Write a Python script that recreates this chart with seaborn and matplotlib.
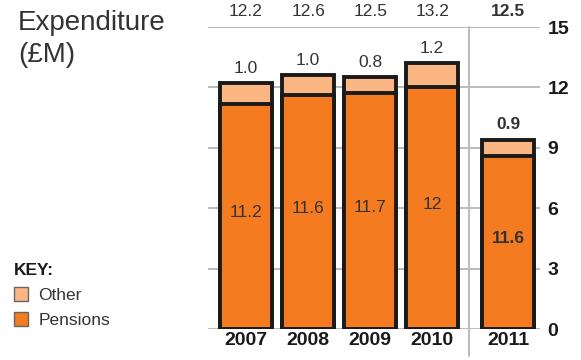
import matplotlib
matplotlib.use("Agg")
import matplotlib.pyplot as plt
import seaborn as sns
import pandas as pd
from matplotlib.patches import Patch

years = ["2007", "2008", "2009", "2010", "2011"]
pensions_label = ["11.2", "11.6", "11.7", "12", "11.6"]
other_label = ["1.0", "1.0", "0.8", "1.2", "0.9"]
total_label = ["12.2", "12.6", "12.5", "13.2", "12.5"]
# drawn bar heights (2011 is drawn shorter than its label)
pensions_height = [11.2, 11.6, 11.7, 12.0, 8.6]
other_height = [1.0, 1.0, 0.8, 1.2, 0.8]
yticks = [0, 3, 6, 9, 12, 15]

PENS = "#F47B20"
OTH = "#FBB684"
TXT = "#333333"

sns.set_theme(style="white")
plt.rcParams["font.family"] = ["Liberation Sans", "DejaVu Sans"]

# positions: four years evenly spaced, then a gap before 2011
pos = [i + (0.226 if i == 4 else 0) for i in range(len(years))]
df = pd.DataFrame({
    "pos": pos,
    "pens": pensions_height,
    "total": [p + o for p, o in zip(pensions_height, other_height)],
})

fig = plt.figure(figsize=(5.81, 3.6), dpi=100)
ax = fig.add_axes([0.358, 0.086, 0.572, 0.839])

sns.barplot(data=df, x="pos", y="total", native_scale=True, color=OTH,
            saturation=1, width=0.84, edgecolor="#1a1a1a", linewidth=2.8,
            ax=ax)
sns.barplot(data=df, x="pos", y="pens", native_scale=True, color=PENS,
            saturation=1, width=0.84, edgecolor="#1a1a1a", linewidth=2.8,
            ax=ax)

ax.set_xlim(-0.613, 4.742)
ax.set_ylim(0, 15)
ax.set_yticks(yticks)
ax.yaxis.tick_right()
ax.set_yticklabels([str(t) for t in yticks], fontsize=14, fontweight="bold",
                   color="#1a1a1a")
ax.tick_params(axis="y", length=0, pad=5)
ax.set_xticks(pos)
ax.set_xticklabels(years, fontsize=14, fontweight="bold", color="#1a1a1a")
ax.tick_params(axis="x", length=0, pad=2)
ax.set_xlabel("")
ax.set_ylabel("")
for s in ax.spines.values():
    s.set_visible(False)
ax.grid(axis="y", color="#bbbbbb", linewidth=1.4)
ax.set_axisbelow(True)

# vertical separator before 2011
ax.axvline(3.597, ymin=-0.09, ymax=1.0, color="#bbbbbb", linewidth=1.4,
           clip_on=False, zorder=0)

for i, x in enumerate(pos):
    bold = "bold" if i == 4 else "normal"
    ax.text(x, 15.75, total_label[i], ha="center", va="center", fontsize=12.5,
            fontweight=bold, color=TXT, clip_on=False)
    top = pensions_height[i] + other_height[i]
    ax.text(x, top + 0.75, other_label[i], ha="center", va="center",
            fontsize=12.5, fontweight=bold, color=TXT)
    ax.text(x, pensions_height[i] / 2 + 0.2, pensions_label[i], ha="center",
            va="center", fontsize=12.5, fontweight=bold, color=TXT)

fig.text(0.031, 0.972, "Expenditure\n(£M)", ha="left", va="top", fontsize=20,
         color=TXT, linespacing=1.32)

handles = [Patch(facecolor=OTH, edgecolor="#666666", label="Other"),
           Patch(facecolor=PENS, edgecolor="#666666", label="Pensions")]
leg = fig.legend(handles=handles, loc="upper left",
                 bbox_to_anchor=(0.018, 0.28), frameon=False, fontsize=12.5,
                 title="KEY:", alignment="left", handlelength=0.8,
                 handleheight=0.8, handletextpad=0.6, labelspacing=0.55,
                 borderaxespad=0, borderpad=0.2)
leg.get_title().set_fontweight("bold")
leg.get_title().set_fontsize(12.5)
leg.get_title().set_color("#1a1a1a")
for t in leg.get_texts():
    t.set_color(TXT)

fig.savefig("out.png", dpi=100)
